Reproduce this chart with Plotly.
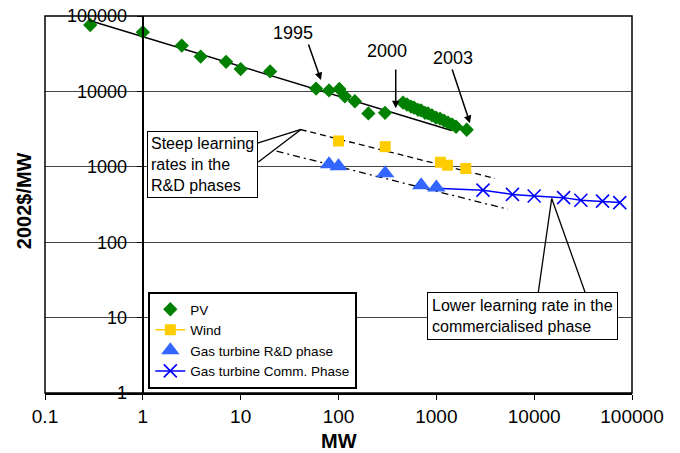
import plotly.graph_objects as go

# ---- data ----
pv_mw = [0.29, 1.0, 2.5, 3.9, 7.1, 10, 20, 59, 80, 102, 116, 147, 202, 299,
         456, 501, 551, 591, 650, 697, 766, 822, 903, 993, 1091, 1198, 1316, 1447, 1590, 2045]
pv_cost = [76000, 61000, 40500, 29000, 24700, 19800, 18400, 10900, 10300, 10800, 8600, 7400, 5100, 5200,
           7100, 6700, 6300, 6100, 5700, 5600, 5200, 5100, 4800, 4500, 4350, 4100, 3850, 3650, 3400, 3100]
pv_fit_mw = [0.29, 1430]
pv_fit_cost = [86700, 3030]

wind_mw = [100, 300, 1100, 1300, 2000]
wind_cost = [2200, 1850, 1150, 1050, 950]
wind_fit_mw = [41, 3980]
wind_fit_cost = [3120, 700]

gas_rd_mw = [80, 100, 300, 700, 1000]
gas_rd_cost = [1080, 1020, 820, 570, 530]
gas_rd_fit_mw = [23.3, 5370]
gas_rd_fit_cost = [1610, 274]

comm_mw = [1000, 3000, 6000, 10000, 20000, 30000, 50000, 75000]
comm_cost = [520, 490, 430, 410, 390, 360, 350, 335]

x_ticks = [0.1, 1, 10, 100, 1000, 10000, 100000]
x_ticktext = ["0.1", "1", "10", "100", "1000", "10000", "100000"]
y_ticks = [1, 10, 100, 1000, 10000, 100000]
y_ticktext = ["1", "10", "100", "1000", "10000", "100000"]

FONT = "Liberation Sans, Arial, Helvetica, sans-serif"
GREEN = "#008000"
GOLD = "#FFCC00"
LBLUE = "#3366FF"
BLUE = "#0000FF"

fig = go.Figure()

# trend lines
fig.add_trace(go.Scatter(x=pv_fit_mw, y=pv_fit_cost, mode="lines",
                         line=dict(color="black", width=1.5), showlegend=False, hoverinfo="skip"))
fig.add_trace(go.Scatter(x=wind_fit_mw, y=wind_fit_cost, mode="lines",
                         line=dict(color="black", width=1.3, dash="6px,4px"), showlegend=False, hoverinfo="skip"))
fig.add_trace(go.Scatter(x=gas_rd_fit_mw, y=gas_rd_fit_cost, mode="lines",
                         line=dict(color="black", width=1.3, dash="7px,4px,2px,4px"), showlegend=False, hoverinfo="skip"))

# commercial phase line segment from the last R&D point
fig.add_trace(go.Scatter(x=comm_mw[:2], y=comm_cost[:2], mode="lines",
                         line=dict(color=BLUE, width=1.5), showlegend=False, hoverinfo="skip"))

# PV
fig.add_trace(go.Scatter(x=pv_mw, y=pv_cost, mode="markers", name="PV", legendrank=1,
                         marker=dict(symbol="diamond", size=11, color=GREEN)))
# Wind (markers only on chart, legend shows line+marker)
fig.add_trace(go.Scatter(x=wind_mw, y=wind_cost, mode="markers", name="Wind", showlegend=False,
                         marker=dict(symbol="square", size=11, color=GOLD)))
fig.add_trace(go.Scatter(x=[None], y=[None], mode="lines+markers", name="Wind", legendrank=2,
                         line=dict(color=GOLD, width=1.5),
                         marker=dict(symbol="square", size=11, color=GOLD)))
# Gas turbine R&D
fig.add_trace(go.Scatter(x=gas_rd_mw, y=gas_rd_cost, mode="markers", name="Gas turbine R&D phase",
                         legendrank=3, marker=dict(symbol="triangle-up", size=16, color=LBLUE)))
# Gas turbine commercial
fig.add_trace(go.Scatter(x=comm_mw[1:], y=comm_cost[1:], mode="lines+markers",
                         name="Gas turbine Comm. Phase", legendrank=4,
                         line=dict(color=BLUE, width=1.5),
                         marker=dict(symbol="x-thin", size=13, color=BLUE,
                                     line=dict(color=BLUE, width=1.6))))

annotations = []
# year labels and arrows (log10 data coords)
for txt, tx, ty in [("1995", 1.535, 4.774), ("2000", 2.496, 4.535), ("2003", 3.167, 4.446)]:
    annotations.append(dict(x=tx, y=ty, xref="x", yref="y", text=txt, showarrow=False,
                            xanchor="center", yanchor="middle",
                            font=dict(family=FONT, size=18, color="black")))
for (x0, y0, x1, y1) in [(1.688, 4.641, 1.821, 4.150),
                         (2.585, 4.309, 2.585, 3.778),
                         (3.157, 4.309, 3.344, 3.579)]:
    annotations.append(dict(x=x1, y=y1, ax=x0, ay=y0, xref="x", yref="y", axref="x", ayref="y",
                            text="", showarrow=True, arrowhead=2, arrowsize=1, arrowwidth=1.5,
                            arrowcolor="black", standoff=0, startstandoff=0))
# callout boxes
annotations.append(dict(x=0.1733, y=0.6946, xref="paper", yref="paper", xanchor="left", yanchor="top",
                        text="Steep learning<br>rates in the<br>R&D phases", align="left", showarrow=False,
                        font=dict(family=FONT, size=16, color="black"),
                        bgcolor="white", bordercolor="black", borderwidth=1, borderpad=3))
annotations.append(dict(x=0.6503, y=0.2677, xref="paper", yref="paper", xanchor="left", yanchor="top",
                        text="Lower learning rate in the<br>commercialised phase", align="left", showarrow=False,
                        font=dict(family=FONT, size=16, color="black"),
                        bgcolor="white", bordercolor="black", borderwidth=1, borderpad=4))
# axis titles
annotations.append(dict(x=-0.0358, y=0.5113, xref="paper", yref="paper", text="<b>2002$/MW</b>",
                        xanchor="center", yanchor="middle",
                        textangle=-90, showarrow=False, font=dict(family=FONT, size=20, color="black")))
annotations.append(dict(x=0.5009, y=-0.127, xref="paper", yref="paper", text="<b>MW</b>",
                        xanchor="center", yanchor="middle",
                        showarrow=False, font=dict(family=FONT, size=20, color="black")))

shapes = [
    dict(type="rect", xref="paper", yref="paper", x0=0, y0=0, x1=1, y1=1,
         line=dict(color="black", width=1.5), layer="above"),
]
for (x0, y0, x1, y1) in [(0.3607, 0.6619, 0.4361, 0.6991),
                         (0.3634, 0.6130, 0.4361, 0.6991),
                         (0.8404, 0.2677, 0.8632, 0.5158),
                         (0.9199, 0.2677, 0.8632, 0.5158)]:
    shapes.append(dict(type="line", xref="paper", yref="paper", x0=x0, y0=y0, x1=x1, y1=y1,
                       line=dict(color="black", width=1.3)))

fig.update_layout(
    width=680, height=453,
    margin=dict(l=45, r=48, t=16, b=60, autoexpand=False),
    paper_bgcolor="white", plot_bgcolor="white",
    font=dict(family=FONT, color="black"),
    xaxis=dict(type="log", range=[-1, 5], tickvals=x_ticks, ticktext=x_ticktext, automargin=False,
               showgrid=False, zeroline=False, showline=True, linecolor="black", linewidth=1.5,
               ticks="outside", ticklen=5, tickcolor="black", tickwidth=1.3,
               tickfont=dict(family=FONT, size=19, color="black")),
    yaxis=dict(type="log", range=[0, 5], tickvals=y_ticks, ticktext=y_ticktext, automargin=False,
               anchor="free", position=0.1675,
               showgrid=True, gridcolor="#444444", gridwidth=1, zeroline=False,
               showline=True, linecolor="black", linewidth=1.5,
               ticks="outside", ticklen=6, tickcolor="black", tickwidth=1.3,
               ticklabelstandoff=6,
               tickfont=dict(family=FONT, size=18, color="black")),
    legend=dict(x=0.176, y=0.268, xanchor="left", yanchor="top",
                bgcolor="white", bordercolor="black", borderwidth=2,
                font=dict(family=FONT, size=13.5, color="black"), tracegroupgap=0),
    annotations=annotations,
    shapes=shapes,
    showlegend=True,
)

fig.write_html("out.html", post_script="document.body.style.margin='0';",
               config={"displayModeBar": False})
